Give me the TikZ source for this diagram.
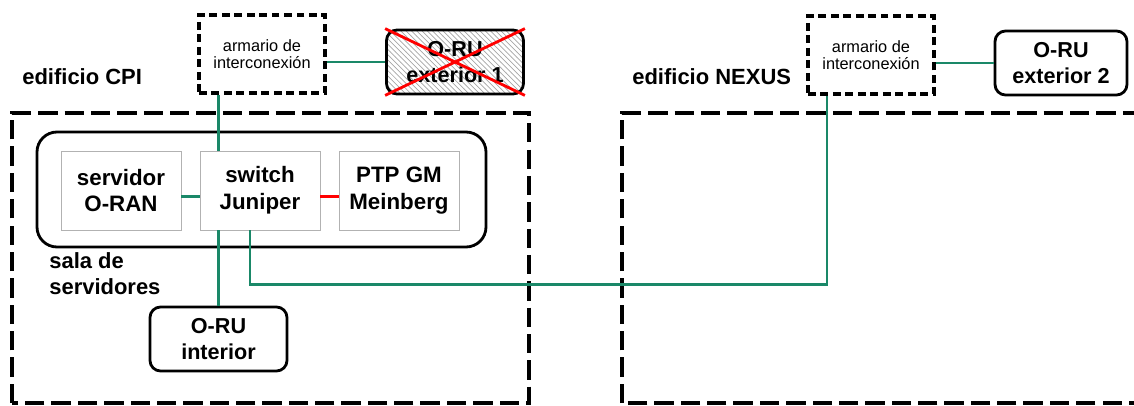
\documentclass[tikz,border=0pt]{standalone}
\usepackage{fontspec}
\setmainfont{Liberation Sans}
\usepackage{tikz}
\usetikzlibrary{positioning,patterns}
\definecolor{verdecable}{RGB}{26,136,104}
\tikzset{
    edificio/.style={
           draw=black, line width=2.8pt,
           dash pattern=on 11pt off 4pt,
           },
    sala/.style={
           rectangle,
           rounded corners=0.4cm,
           draw=black, line width=1.6pt,
           },
    armario/.style={
           rectangle,
           draw=black, line width=1.8pt,
           dash pattern=on 4.5pt off 2.6pt,
           minimum width=2.52cm, minimum height=1.56cm,
           align=center,
           font=\fontsize{9.3}{9.6}\selectfont,
           },
    equipo/.style={
           rectangle,
           draw=black!30, thin,
           minimum width=2.4cm, minimum height=1.58cm,
           align=center,
           font=\bfseries\fontsize{12.7}{15.2}\selectfont,
           },
    oru/.style={
           rectangle,
           rounded corners=6pt,
           draw=black, line width=1.6pt,
           minimum width=2.74cm, minimum height=1.28cm,
           align=center,
           font=\bfseries\fontsize{12.3}{14.4}\selectfont,
           },
    etiqueta/.style={
           anchor=west, align=left, inner sep=0pt,
           font=\bfseries\fontsize{12.5}{14.7}\selectfont,
           },
    cable/.style={draw=verdecable, line width=1.5pt},
    sincro/.style={draw=red, line width=1.6pt},
}

\begin{document}
\begin{tikzpicture}

    \useasboundingbox (0,0) rectangle (22.68,8.1);
    \clip (0,0) rectangle (22.68,8.1);

    \draw[edificio] (0.24,0.04) rectangle (10.58,5.84);
    \draw[edificio] (12.44,0.04) rectangle (23.5,5.84);
    \node[etiqueta] (CPI) at (0.44,6.56) {edificio CPI};
    \node[etiqueta] (NEX) at (12.64,6.56) {edificio NEXUS};

    \node[sala,minimum width=8.98cm,minimum height=2.3cm]
        (SALA) at (5.23,4.31) {};
    \node[etiqueta] (SALAtxt) at (0.98,2.62) {sala de\\servidores};

    \node[equipo,anchor=center]
        (SRV) at (2.42,4.29) {servidor\\O-RAN};
    \node[equipo,anchor=center,right of=SRV,node distance=2.78cm]
        (SW) {switch\\Juniper};
    \node[equipo,anchor=center,right of=SW,node distance=2.78cm]
        (PTP) {PTP GM\\Meinberg};

    \node[armario] (A1) at (5.24,7.02) {armario de\\interconexi\'on};
    \node[oru,pattern=north west lines,pattern color=black!35]
        (E1) at (9.1,6.86) {O-RU\\exterior 1};
    \node[armario] (A2) at (17.42,7.0) {armario de\\interconexi\'on};
    \node[oru,minimum width=2.64cm] (E2) at (21.22,6.84) {O-RU\\exterior 2};
    \node[oru] (ORUi) at (4.37,1.32) {O-RU\\interior};

    \draw[sincro] (E1.north west) -- (E1.south east);
    \draw[sincro] (E1.south west) -- (E1.north east);

    \draw[cable] ([yshift=-0.12cm]SRV.east) -- ([yshift=-0.12cm]SW.west);
    \draw[sincro] ([yshift=-0.12cm]SW.east) -- ([yshift=-0.12cm]PTP.west);
    \draw[cable] (ORUi.north) -- (ORUi.north |- SW.south);
    \draw[cable] (SW.north -| ORUi.north) -- (A1.south -| ORUi.north);
    \draw[cable] (E1.west) -- (E1.west -| A1.east);
    \draw[cable] (E2.west) -- (E2.west -| A2.east);
    \draw[cable] ([xshift=-0.2cm]SW.south) -- ++(0,-1.08) -| ([xshift=-0.88cm]A2.south);

\end{tikzpicture}
\end{document}
